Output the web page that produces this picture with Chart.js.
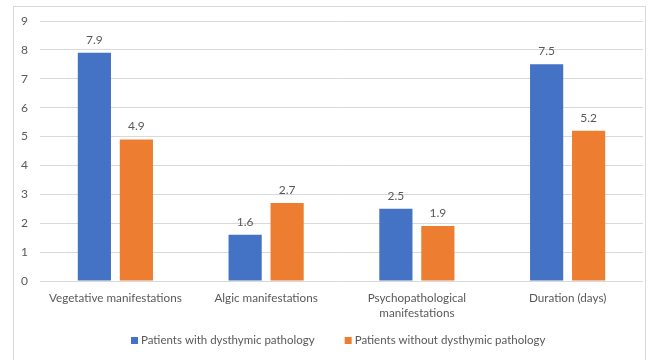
<!DOCTYPE html>
<html>
<head>
<meta charset="utf-8">
<script src="https://cdn.jsdelivr.net/npm/chart.js@4"></script>
<style>
  html, body { margin: 0; padding: 0; background: #fff; }
  #wrap { width: 660px; height: 360px; position: relative; }
</style>
</head>
<body>
<div id="wrap"><canvas id="c" width="660" height="360"></canvas></div>
<script>
const categories = [
  'Vegetative manifestations',
  'Algic manifestations',
  ['Psychopathological', 'manifestations'],
  'Duration (days)'
];
const withDysthymia = [7.9, 1.6, 2.5, 7.5];
const withoutDysthymia = [4.9, 2.7, 1.9, 5.2];
const seriesNames = ['Patients with dysthymic pathology', 'Patients without dysthymic pathology'];
const yTicks = [0, 1, 2, 3, 4, 5, 6, 7, 8, 9];

const FONT = 'Lato, "Open Sans", sans-serif';
const TEXT = '#595959';

// Writes each bar's value just above it
const valueLabels = {
  id: 'valueLabels',
  afterDatasetsDraw(chart) {
    const ctx = chart.ctx;
    ctx.save();
    ctx.font = '12px ' + FONT;
    ctx.fillStyle = TEXT;
    ctx.textAlign = 'center';
    ctx.textBaseline = 'bottom';
    chart.data.datasets.forEach((ds, i) => {
      chart.getDatasetMeta(i).data.forEach((bar, j) => {
        ctx.fillText(ds.data[j].toFixed(1), bar.x, bar.y - 7);
      });
    });
    ctx.restore();
  }
};

// Light frame around the chart
const frame = {
  id: 'frame',
  beforeDraw(chart) {
    const ctx = chart.ctx;
    ctx.save();
    ctx.fillStyle = '#ffffff';
    ctx.fillRect(0, 0, chart.width, chart.height);
    ctx.strokeStyle = '#d9d9d9';
    ctx.lineWidth = 1;
    ctx.strokeRect(13.5, 6.5, 632, 400);
    ctx.restore();
  }
};

// Series key below the axis: small squares followed by the series names
const seriesKey = {
  id: 'seriesKey',
  afterDraw(chart) {
    const ctx = chart.ctx;
    const box = 7, boxGap = 3, itemGap = 30, centerX = 338, midY = 340.5;
    ctx.save();
    ctx.font = '11.5px ' + FONT;
    ctx.textBaseline = 'middle';
    const items = chart.data.datasets.map(ds => ({
      text: ds.label, color: ds.backgroundColor, w: ctx.measureText(ds.label).width
    }));
    const total = items.reduce((s, it) => s + box + boxGap + it.w, 0) + itemGap * (items.length - 1);
    let x = Math.round(centerX - total / 2);
    items.forEach(it => {
      ctx.fillStyle = it.color;
      ctx.fillRect(x, Math.round(midY - box / 2), box, box);
      x += box + boxGap;
      ctx.fillStyle = TEXT;
      ctx.textAlign = 'left';
      ctx.fillText(it.text, x, midY);
      x += it.w + itemGap;
    });
    ctx.restore();
  }
};

new Chart(document.getElementById('c'), {
  type: 'bar',
  data: {
    labels: categories,
    datasets: [
      { label: seriesNames[0], data: withDysthymia, backgroundColor: '#4472C4',
        categoryPercentage: 0.557, barPercentage: 0.79 },
      { label: seriesNames[1], data: withoutDysthymia, backgroundColor: '#ED7D31',
        categoryPercentage: 0.557, barPercentage: 0.79 }
    ]
  },
  options: {
    responsive: false,
    animation: false,
    layout: { padding: { top: 21, right: 17, left: 0, bottom: 0 } },
    plugins: {
      legend: { display: false },
      tooltip: { enabled: false }
    },
    scales: {
      x: {
        grid: { display: false, drawTicks: false },
        border: { display: false },
        ticks: { color: TEXT, font: { family: FONT, size: 11.7, lineHeight: 1.25 }, padding: 10, maxRotation: 0, autoSkip: false },
        afterFit(s) { s.height = 79; }
      },
      y: {
        min: 0, max: 9,
        afterBuildTicks(s) { s.ticks = yTicks.map(v => ({ value: v })); },
        grid: { color: '#d9d9d9', drawTicks: false },
        border: { display: false },
        ticks: { color: TEXT, font: { family: FONT, size: 12 }, padding: 12 },
        afterFit(s) { s.width = 40; }
      }
    }
  },
  plugins: [frame, valueLabels, seriesKey]
});
</script>
</body>
</html>
